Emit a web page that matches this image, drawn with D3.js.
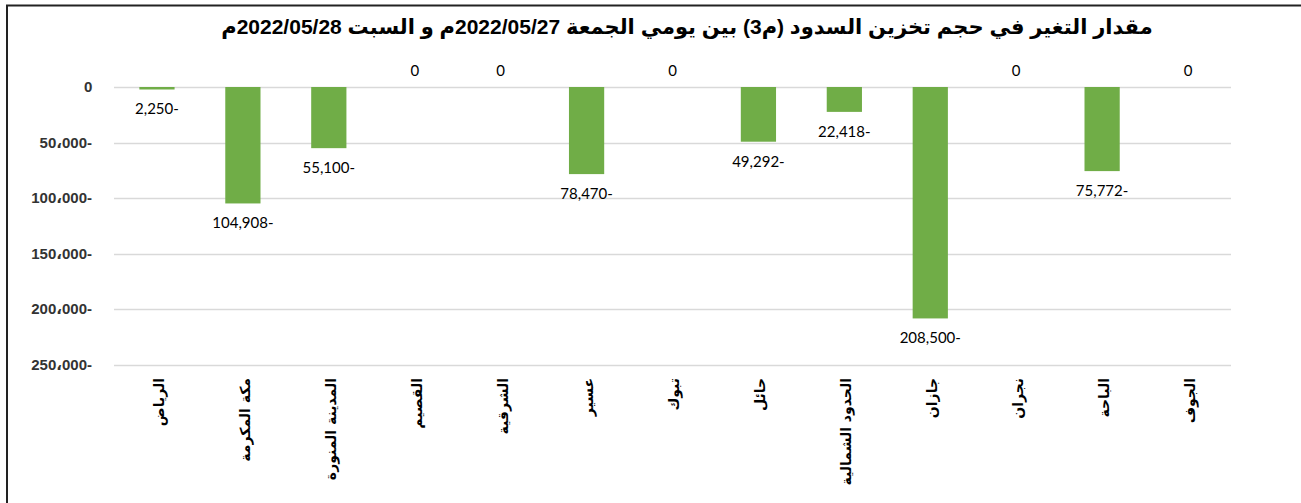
<!DOCTYPE html>
<html>
<head>
<meta charset="utf-8">
<script src="https://cdn.jsdelivr.net/npm/d3@7"></script>
<style>
  body { margin: 0; background: #fff; }
  svg { display: block; }
</style>
</head>
<body>
<div id="chart"></div>
<script>
// regions, left to right as in the picture
const regions = ["الرياض", "مكة المكرمة", "المدينة المنورة", "القصيم", "الشرقية", "عسير", "تبوك",
                 "حائل", "الحدود الشمالية", "جازان", "نجران", "الباحة", "الجوف"];
// change in storage (m3), shown as negative in the chart
const changes = [-2250, -104908, -55100, 0, 0, -78470, 0, -49292, -22418, -208500, 0, -75772, 0];
const yTicks = [0, 50000, 100000, 150000, 200000, 250000];
const title = "مقدار التغير في حجم تخزين السدود (م3) بين يومي الجمعة 2022/05/27م و السبت 2022/05/28م";

const W = 1301, H = 503;
const margin = { top: 87, right: 70, bottom: 139, left: 114 };
const width = W - margin.left - margin.right;
const height = H - margin.top - margin.bottom;

const svg = d3.select("#chart").append("svg")
    .attr("width", W)
    .attr("height", H);

// frame: top and left lines only
svg.append("line").attr("x1", 6).attr("x2", W).attr("y1", 5.5).attr("y2", 5.5)
    .attr("stroke", "#222").attr("stroke-width", 2);
svg.append("line").attr("x1", 7).attr("x2", 7).attr("y1", 5).attr("y2", H)
    .attr("stroke", "#222").attr("stroke-width", 2);

// title
svg.append("text")
    .attr("x", 687)
    .attr("y", 34)
    .attr("text-anchor", "middle")
    .attr("direction", "rtl")
    .style("font-family", "'Liberation Sans', 'DejaVu Sans', sans-serif")
    .style("font-weight", "bold")
    .style("font-size", "21px")
    .attr("fill", "#000")
    .text(title);

const g = svg.append("g")
    .attr("transform", "translate(" + margin.left + "," + margin.top + ")");

const x = d3.scaleBand()
    .domain(regions)
    .range([0, width])
    .paddingInner(0.59)
    .paddingOuter(0.295);

const y = d3.scaleLinear()
    .domain([0, 250000])
    .range([0, 277.5]);

// gridlines
g.selectAll(".grid")
    .data(yTicks)
    .enter().append("line")
    .attr("class", "grid")
    .attr("x1", 0)
    .attr("x2", width)
    .attr("y1", d => Math.round(y(d)) + 0.5)
    .attr("y2", d => Math.round(y(d)) + 0.5)
    .attr("stroke", "#d9d9d9")
    .attr("stroke-width", 1.5);

// y axis labels
const fmtTick = d => d === 0 ? "0" : d3.format(",")(d).replace(/,/g, "\u060C") + "-";
g.selectAll(".ytick")
    .data(yTicks)
    .enter().append("text")
    .attr("class", "ytick")
    .attr("x", -22)
    .attr("y", d => y(d))
    .attr("dy", "0.35em")
    .attr("text-anchor", "end")
    .attr("direction", "ltr")
    .style("unicode-bidi", "bidi-override")
    .style("font-family", "'Liberation Sans', 'DejaVu Sans', sans-serif")
    .style("font-weight", "bold")
    .style("font-size", "15px")
    .style("letter-spacing", "-0.3px")
    .attr("fill", "#333")
    .text(fmtTick);

// bars
const data = regions.map((r, i) => ({ region: r, value: changes[i] }));
g.selectAll(".bar")
    .data(data)
    .enter().append("rect")
    .attr("class", "bar")
    .attr("x", d => x(d.region))
    .attr("y", 0)
    .attr("width", x.bandwidth())
    .attr("height", d => y(-d.value))
    .attr("fill", "#70ad47");

// value labels
const fmtVal = d => d === 0 ? "0" : d3.format(",")(-d) + "-";
g.selectAll(".vlabel")
    .data(data)
    .enter().append("text")
    .attr("class", "vlabel")
    .attr("x", d => x(d.region) + x.bandwidth() / 2)
    .attr("y", d => d.value === 0 ? -11 : y(-d.value) + 25)
    .attr("text-anchor", "middle")
    .attr("direction", "ltr")
    .style("unicode-bidi", "bidi-override")
    .style("font-family", "Lato, 'Open Sans', sans-serif")
    .style("font-size", "15px")
    .attr("fill", "#000")
    .text(d => fmtVal(d.value));

// x axis labels, rotated
g.selectAll(".xlabel")
    .data(regions)
    .enter().append("text")
    .attr("class", "xlabel")
    .attr("transform", d => "translate(" + (x(d) + x.bandwidth() / 2 + 2) + "," + (height + 14) + ") rotate(-90)")
    .attr("dy", "0.35em")
    .attr("text-anchor", "end")
    .style("font-family", "'DejaVu Sans', sans-serif")
    .style("font-weight", "bold")
    .style("font-size", "14px")
    .attr("fill", "#000")
    .text(d => d);
</script>
</body>
</html>
